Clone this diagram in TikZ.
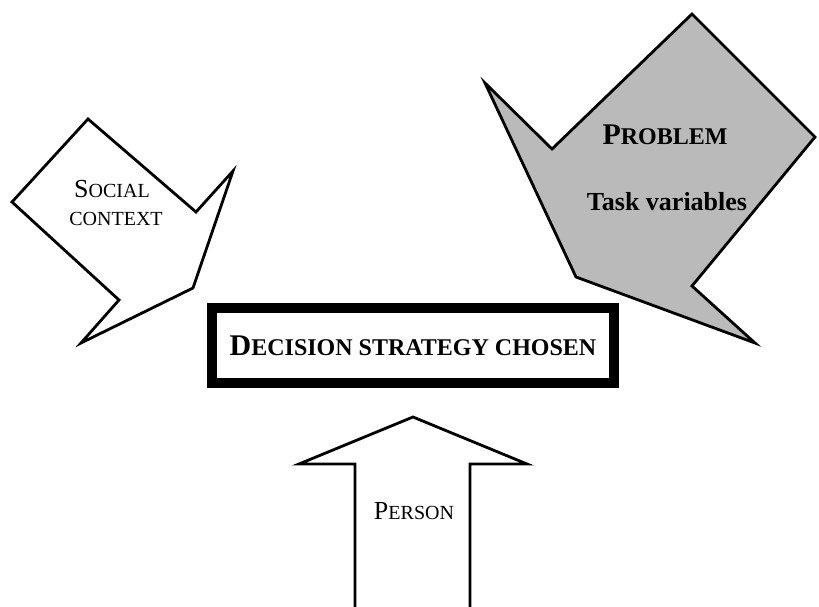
\documentclass[tikz,border=0pt]{standalone}
\usepackage{fontspec}
\setmainfont{Liberation Serif}
\usetikzlibrary{positioning}

\newcommand{\scinit}[2]{{\fontsize{#1}{#1}\selectfont #2}}

\begin{document}
\begin{tikzpicture}[x=1pt,y=-1pt,
	blockarrow/.style={draw=black,line width=2.8pt},
	plain/.style={anchor=base,inner sep=0pt,font=\fontsize{20}{24}\selectfont},
	heavy/.style={anchor=base,inner sep=0pt,font=\bfseries\fontsize{24}{28}\selectfont},
	decbox/.style={draw=black,line width=10pt,minimum width=402pt,minimum height=75pt,inner sep=0pt,font=\bfseries\fontsize{24}{28}\selectfont}]
	\useasboundingbox (0,0) rectangle (819,607);

	\draw[blockarrow,fill=white] (12,202) -- (88,119) -- (196,212) -- (233,171)
		-- (193,288) -- (81,343) -- (119,300) -- cycle;
	\draw[blockarrow,fill=black!27] (692,14) -- (815,137) -- (692,286) -- (755,343)
		-- (576,277) -- (485,83) -- (552,149) -- cycle;
	\draw[blockarrow] (355,607) -- (355,464) -- (299,464) -- (413,417)
		-- (527,464) -- (470,464) -- (470,607);

	\node[plain] (social) at (112,197) {\scinit{26}{S}OCIAL};
	\node[plain] (context) at (116,225) {CONTEXT};
	\node[heavy] (problem) at (665,144) {\scinit{30}{P}ROBLEM};
	\node[heavy,font=\bfseries\fontsize{26}{30}\selectfont] (task) at (667,210) {Task variables};
	\node[decbox] (decision) at (413,345.5) {\scinit{30}{D}ECISION STRATEGY CHOSEN};
	\node[plain] (person) at (414,519) {\scinit{26}{P}ERSON};
\end{tikzpicture}
\end{document}
